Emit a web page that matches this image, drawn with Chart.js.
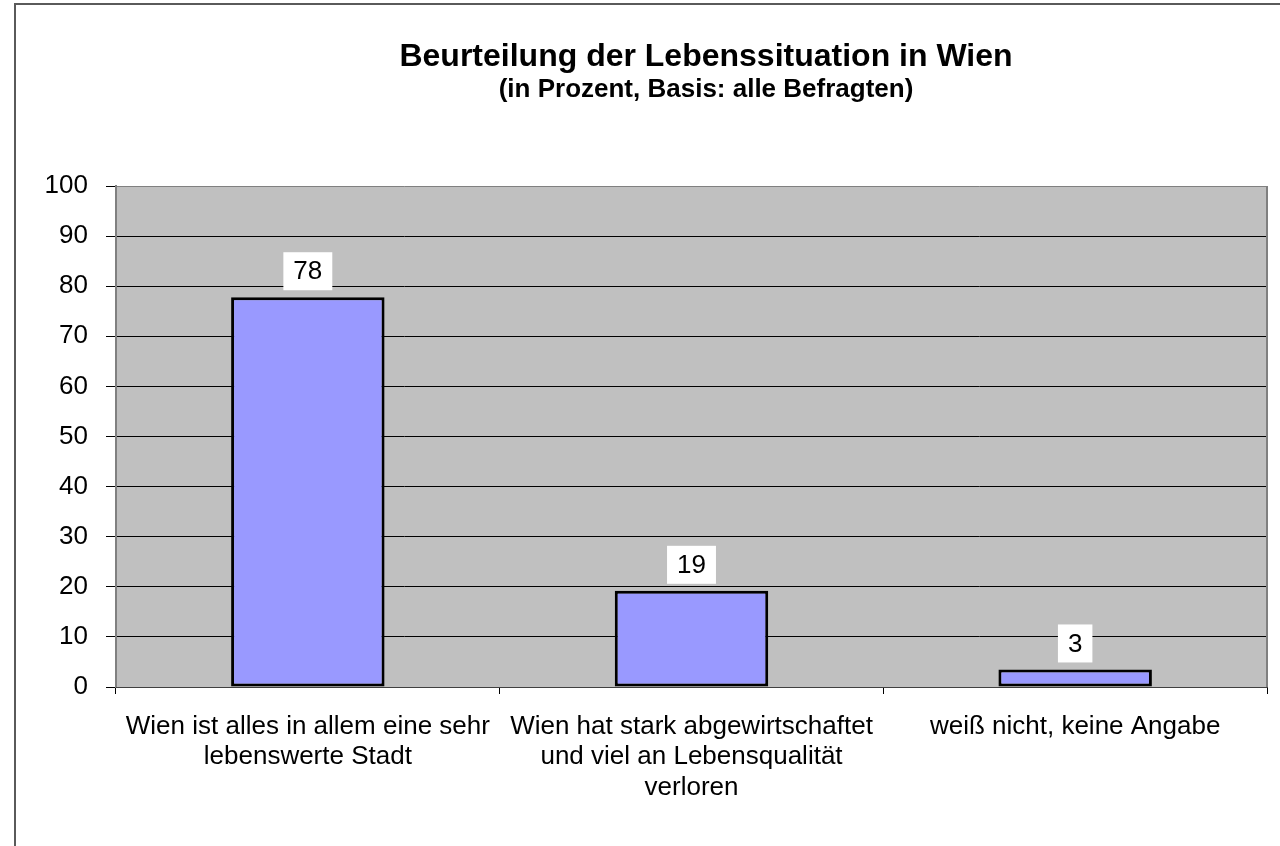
<!DOCTYPE html>
<html><head><meta charset="utf-8">
<script src="https://cdn.jsdelivr.net/npm/chart.js@4"></script>
<style>html,body{margin:0;padding:0;background:#fff;overflow:hidden;}</style>
</head><body>
<canvas id="c" width="1280" height="846"></canvas>
<script>
const titleText = 'Beurteilung der Lebenssituation in Wien';
const subtitleText = '(in Prozent, Basis: alle Befragten)';
const categories = [
  ['Wien ist alles in allem eine sehr', 'lebenswerte Stadt'],
  ['Wien hat stark abgewirtschaftet', 'und viel an Lebensqualität', 'verloren'],
  ['weiß nicht, keine Angabe']
];
const values = [77.8, 19.2, 3.5];
const valueLabels = ['78', '19', '3'];
const yMin = 0, yMax = 100, yStep = 10;

const FONT = '"Liberation Sans", Arial, sans-serif';

const decorPlugin = {
  id: 'decor',
  beforeDraw(chart) {
    const ctx = chart.ctx, a = chart.chartArea;
    ctx.save();
    ctx.fillStyle = '#fff';
    ctx.fillRect(0, 0, chart.width, chart.height);
    ctx.strokeStyle = '#5a5a5a';
    ctx.lineWidth = 2;
    ctx.beginPath();
    ctx.moveTo(15, chart.height + 2);
    ctx.lineTo(15, 4);
    ctx.lineTo(chart.width + 2, 4);
    ctx.stroke();
    ctx.fillStyle = '#C0C0C0';
    ctx.fillRect(a.left, a.top, a.right - a.left, a.bottom - a.top);
    ctx.restore();
  },
  afterDraw(chart) {
    const ctx = chart.ctx, a = chart.chartArea;
    ctx.save();
    ctx.strokeStyle = '#808080';
    ctx.lineWidth = 2;
    ctx.beginPath();
    ctx.moveTo(a.right, a.top);
    ctx.lineTo(a.right, a.bottom);
    ctx.stroke();
    ctx.fillStyle = '#000';
    ctx.textAlign = 'center';
    ctx.textBaseline = 'alphabetic';
    ctx.font = 'bold 32px ' + FONT;
    ctx.fillText(titleText, 706, 66);
    ctx.font = 'bold 26px ' + FONT;
    ctx.fillText(subtitleText, 706, 97);
    const meta = chart.getDatasetMeta(0);
    ctx.font = '26px ' + FONT;
    meta.data.forEach((bar, i) => {
      const txt = valueLabels[i];
      const w = ctx.measureText(txt).width + 20;
      const h = 38;
      const bottom = bar.y - 7;
      ctx.fillStyle = '#fff';
      ctx.fillRect(bar.x - w / 2, bottom - h, w, h);
      ctx.fillStyle = '#000';
      ctx.textBaseline = 'middle';
      ctx.fillText(txt, bar.x, bottom - h / 2 + 1);
    });
    ctx.restore();
  }
};

new Chart(document.getElementById('c'), {
  type: 'bar',
  data: {
    labels: categories,
    datasets: [{
      data: values,
      backgroundColor: '#9999FF',
      borderColor: '#000',
      borderWidth: 3,
      borderSkipped: false,
      barPercentage: 0.4,
      categoryPercentage: 1.0
    }]
  },
  options: {
    responsive: false,
    animation: false,
    devicePixelRatio: 1,
    layout: { padding: { top: 186, right: 13, left: 0, bottom: 0 } },
    plugins: { legend: { display: false }, title: { display: false }, tooltip: { enabled: false } },
    scales: {
      y: {
        min: yMin, max: yMax,
        ticks: { stepSize: yStep, color: '#000', padding: 18, font: { family: FONT, size: 26 } },
        grid: {
          color: (c) => (c.tick && c.tick.value === yMax) ? '#808080' : '#000',
          tickColor: '#000',
          lineWidth: 1,
          tickLength: 10
        },
        border: { color: '#808080', width: 2 },
        afterFit(scale) { scale.width = 116; }
      },
      x: {
        ticks: { color: '#000', padding: 18, maxRotation: 0, autoSkip: false, font: { family: FONT, size: 26, lineHeight: 1.16 } },
        grid: { drawOnChartArea: false, drawTicks: true, tickLength: 7, color: '#000', offset: true },
        border: { color: '#404040', width: 1 },
        afterFit(scale) { scale.height = 159; }
      }
    }
  },
  plugins: [decorPlugin]
});
</script>
</body></html>
